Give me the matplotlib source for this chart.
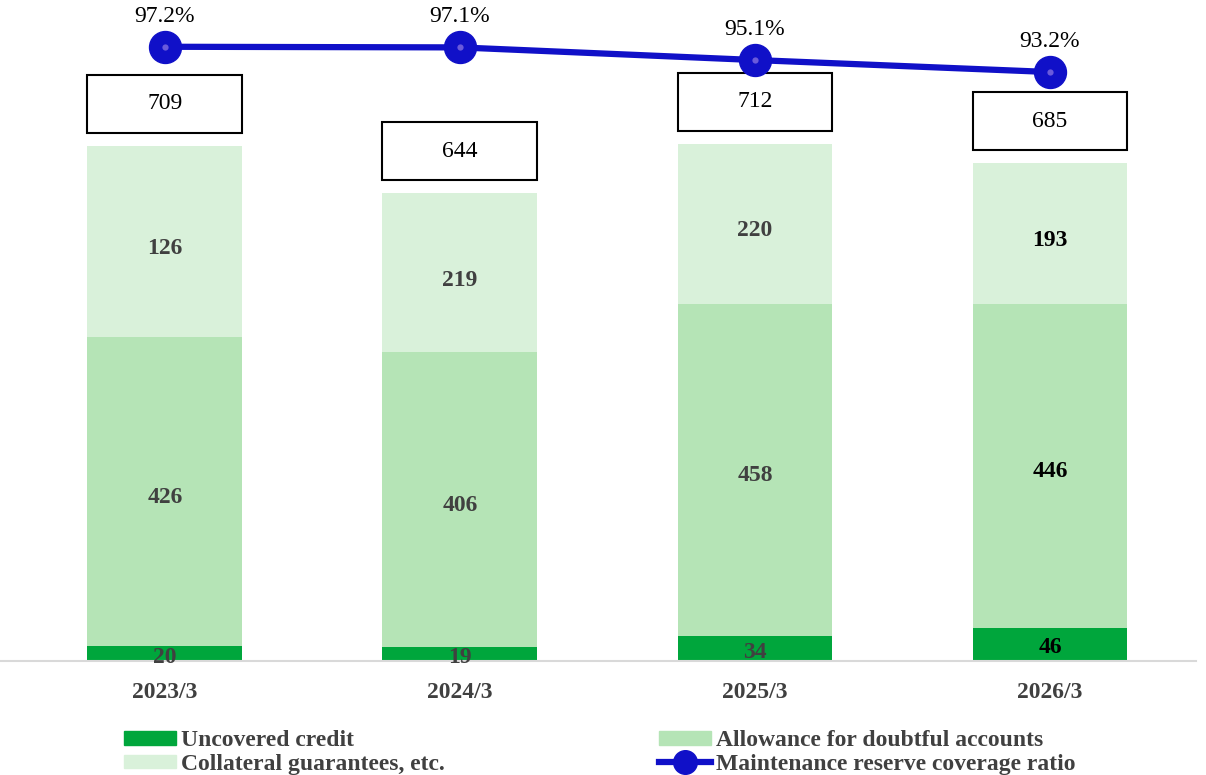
import matplotlib.pyplot as plt
from matplotlib.patches import Rectangle
from matplotlib.lines import Line2D
from matplotlib.patches import Patch

# dados do grafico
anos = ["2023/3", "2024/3", "2025/3", "2026/3"]
descoberto = [20, 19, 34, 46]
provisao = [426, 406, 458, 446]
garantias = [263, 219, 220, 193]
rotulos_garantias = ["126", "219", "220", "193"]
totais = [709, 644, 712, 685]
cobertura = [97.2, 97.1, 95.1, 93.2]

verde_escuro = "#00A63C"
verde_medio = "#B5E4B6"
verde_claro = "#D9F1DA"
azul = "#1010C8"
cinza = "#404040"

plt.rcParams['font.family'] = ['Liberation Serif', 'DejaVu Serif']

fig = plt.figure(figsize=(12.06, 7.75), dpi=100)
ax = fig.add_axes([0, 114 / 775, 1196 / 1206, 661 / 775])

x = range(len(anos))
w = 0.525
ax.bar(x, descoberto, w, color=verde_escuro, zorder=2)
base2 = descoberto
ax.bar(x, provisao, w, bottom=base2, color=verde_medio, zorder=2)
base3 = [a + b for a, b in zip(descoberto, provisao)]
ax.bar(x, garantias, w, bottom=base3, color=verde_claro, zorder=2)

for i in x:
    cor = "black" if i == 3 else cinza
    ax.text(i, descoberto[i] / 2 - 5, str(descoberto[i]), ha="center", va="center",
            fontsize=17, fontweight="bold", color=cor, zorder=4)
    ax.text(i, base2[i] + provisao[i] / 2 - 8, str(provisao[i]), ha="center", va="center",
            fontsize=17, fontweight="bold", color=cor, zorder=4)
    ax.text(i, base3[i] + garantias[i] / 2 - 10, rotulos_garantias[i], ha="center", va="center",
            fontsize=17, fontweight="bold", color=cor, zorder=4)
    # caixa com o total
    topo = base3[i] + garantias[i]
    ax.add_patch(Rectangle((i - w / 2, topo + 18), w, 80, facecolor="white",
                           edgecolor="black", linewidth=1.5, zorder=3))
    ax.text(i, topo + 18 + 40, str(totais[i]), ha="center", va="center",
            fontsize=17, color="black", zorder=4)

ax.set_xlim(-0.559, 3.495)
ax.set_ylim(0, 910)
ax.set_xticks(list(x))
ax.set_xticklabels(anos, fontsize=17, fontweight="bold", color=cinza)
ax.tick_params(axis="x", length=0, pad=15)
ax.set_yticks([])
for s in ["top", "right", "left"]:
    ax.spines[s].set_visible(False)
ax.spines["bottom"].set_color("#D9D9D9")
ax.spines["bottom"].set_linewidth(1.5)

ax2 = ax.twinx()
ax2.plot(list(x), cobertura, color=azul, linewidth=4.5, marker="o", markersize=23,
         markerfacecolor=azul, markeredgecolor=azul, zorder=5)
ax2.plot(list(x), cobertura, linestyle="none", marker="o", markersize=4.5,
         markerfacecolor="#6A5ADB", markeredgecolor="none", zorder=6)
for i in x:
    ax2.annotate("%.1f%%" % cobertura[i], (i, cobertura[i]), xytext=(0, 22),
                 textcoords="offset points", ha="center", va="center", fontsize=17)
ax2.set_ylim(0, 104.6)
ax2.set_yticks([])
for s in ["top", "right", "left", "bottom"]:
    ax2.spines[s].set_visible(False)

handles = [Patch(color=verde_escuro), Patch(color=verde_claro),
           Patch(color=verde_medio),
           Line2D([], [], color=azul, linewidth=4.5, marker="o", markersize=17,
                  markerfacecolor=azul)]
labels = ["Uncovered credit", "Collateral guarantees, etc.",
          "Allowance for doubtful accounts", "Maintenance reserve coverage ratio"]
leg = fig.legend(handles, labels, ncol=2, loc="lower left", bbox_to_anchor=(110 / 1206, -0.018),
                 frameon=False, prop={"size": 17, "weight": "bold"}, handlelength=2.2,
                 handleheight=0.5, handletextpad=0.2, columnspacing=9.1, labelspacing=0.1,
                 borderaxespad=0.2)
for t in leg.get_texts():
    t.set_color(cinza)

plt.savefig("out.png", dpi=100)
plt.close()
